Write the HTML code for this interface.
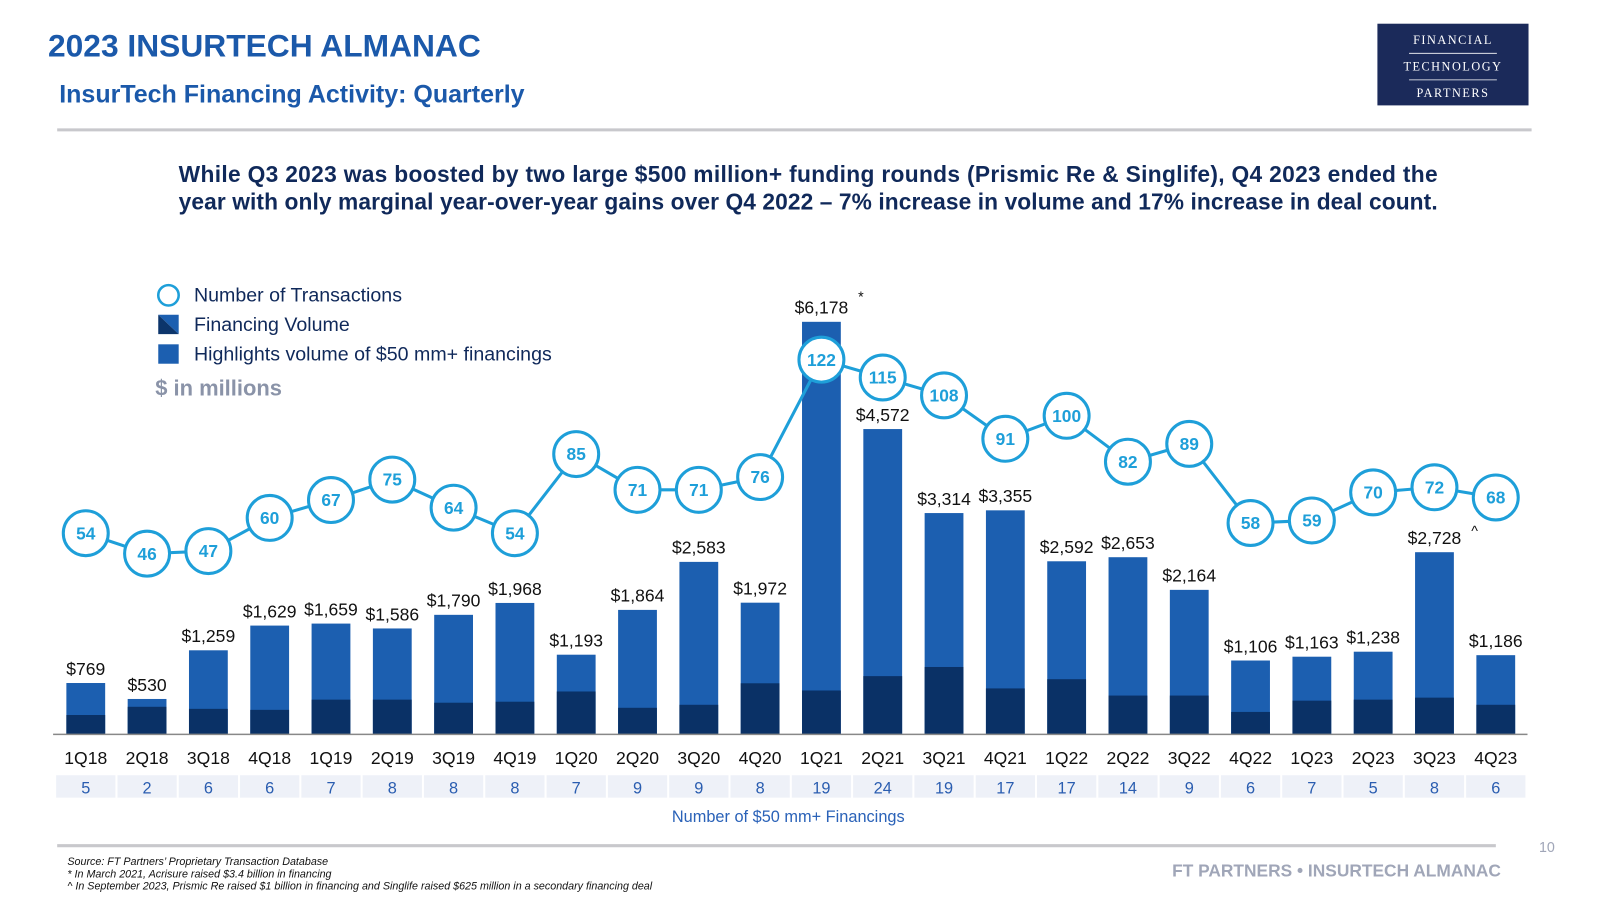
<!DOCTYPE html>
<html><head><meta charset="utf-8"><style>
html,body{margin:0;padding:0;background:#fff;}
svg{display:block;font-family:"Liberation Sans",sans-serif;}
</style></head><body>
<svg id="chart" width="1600" height="900" viewBox="0 0 1567 881">
<text x="47" y="55" font-size="31.1" font-weight="bold" fill="#1b59aa">2023 INSURTECH ALMANAC</text>
<text x="58" y="100" font-size="24.5" font-weight="bold" fill="#1b59aa">InsurTech Financing Activity: Quarterly</text>
<g>
<rect x="1349" y="23" width="148" height="80" fill="#1b2a5a"/>
<text x="1423" y="43" font-size="12" font-family="Liberation Serif,serif" fill="#fff" text-anchor="middle" letter-spacing="1.5">FINANCIAL</text>
<line x1="1380" y1="52" x2="1466" y2="52" stroke="#fff" stroke-width="0.8"/>
<text x="1423" y="69" font-size="12" font-family="Liberation Serif,serif" fill="#fff" text-anchor="middle" letter-spacing="1.5">TECHNOLOGY</text>
<line x1="1380" y1="78" x2="1466" y2="78" stroke="#fff" stroke-width="0.8"/>
<text x="1423" y="95" font-size="12" font-family="Liberation Serif,serif" fill="#fff" text-anchor="middle" letter-spacing="1.5">PARTNERS</text>
</g>
<line x1="56" y1="127" x2="1500" y2="127" stroke="#c8c8cc" stroke-width="3"/>
<text x="175" y="178" font-size="22.3" font-weight="bold" fill="#10295a" textLength="1233" lengthAdjust="spacing">While Q3 2023 was boosted by two large $500 million+ funding rounds (Prismic Re &amp; Singlife), Q4 2023 ended the</text>
<text x="175" y="205" font-size="22.3" font-weight="bold" fill="#10295a" textLength="1233" lengthAdjust="spacing">year with only marginal year-over-year gains over Q4 2022 – 7% increase in volume and 17% increase in deal count.</text>
<g>
<circle cx="165" cy="289" r="10" fill="#fff" stroke="#1e9fd9" stroke-width="2.5"/>
<text x="190" y="295" font-size="19.2" fill="#10295a">Number of Transactions</text>
<polygon points="155,308 175,308 175,327" fill="#1c5fb0"/><polygon points="155,308 155,327 175,327" fill="#0c356b"/>
<text x="190" y="324" font-size="19.2" fill="#10295a">Financing Volume</text>
<rect x="155" y="337" width="20" height="19" fill="#1c5fb0"/>
<text x="190" y="353" font-size="19.2" fill="#10295a">Highlights volume of $50 mm+ financings</text>
<text x="152" y="387" font-size="21.5" font-weight="bold" fill="#8a93a8">$ in millions</text>
</g>
<g id="bars"></g><g id="line"></g><g id="axis"></g>
<text x="772" y="805" font-size="16" fill="#2a62b8" text-anchor="middle">Number of $50 mm+ Financings</text>
<line x1="56" y1="828" x2="1465" y2="828" stroke="#c8c8cc" stroke-width="3"/>
<text x="1515" y="834" font-size="14" fill="#a0a6b8" text-anchor="middle">10</text>
<text x="66" y="847" font-size="10.5" font-style="italic" fill="#111">Source: FT Partners’ Proprietary Transaction Database</text>
<text x="66" y="859" font-size="10.5" font-style="italic" fill="#111">* In March 2021, Acrisure raised $3.4 billion in financing</text>
<text x="66" y="871" font-size="10.5" font-style="italic" fill="#111">^ In September 2023, Prismic Re raised $1 billion in financing and Singlife raised $625 million in a secondary financing deal</text>
<text x="1470" y="858" font-size="17" font-weight="bold" fill="#a0a6b8" text-anchor="end">FT PARTNERS • INSURTECH ALMANAC</text>
</svg>
<script>
const categories=["1Q18","2Q18","3Q18","4Q18","1Q19","2Q19","3Q19","4Q19","1Q20","2Q20","3Q20","4Q20","1Q21","2Q21","3Q21","4Q21","1Q22","2Q22","3Q22","4Q22","1Q23","2Q23","3Q23","4Q23"];
const volume=[769,530,1259,1629,1659,1586,1790,1968,1193,1864,2583,1972,6178,4572,3314,3355,2592,2653,2164,1106,1163,1238,2728,1186];
const darkVolume=[290,413,382,367,520,520,474,489,642,398,443,765,657,872,1009,688,826,581,581,336,505,520,550,443];
const transactions=[54,46,47,60,67,75,64,54,85,71,71,76,122,115,108,91,100,82,89,58,59,70,72,68];
const bigDeals=[5,2,6,6,7,8,8,8,7,9,9,8,19,24,19,17,17,14,9,6,7,5,8,6];
const volumeNotes=["","","","","","","","","","","","","*","","","","","","","","","","^",""];
const NS="http://www.w3.org/2000/svg";
const x0=84,step=60.04,base=719,k=0.0654,bw=38;
const xs=i=>x0+i*step, yv=v=>base-v*k, yt=v=>352+(122-v)*2.5;
function mk(tag,attrs,parent,txt){const e=document.createElementNS(NS,tag);for(const a in attrs)e.setAttribute(a,attrs[a]);if(txt!==undefined)e.textContent=txt;parent.appendChild(e);return e;}
const gb=document.getElementById('bars'),gl=document.getElementById('line'),ga=document.getElementById('axis');
categories.forEach((c,i)=>{
 const x=xs(i);
 const r=mk('rect',{x:x-bw/2,y:yv(volume[i]),width:bw,height:volume[i]*k,fill:'#1c5fb0'},gb);
 
 
 const d=mk('rect',{x:x-bw/2,y:yv(darkVolume[i]),width:bw,height:darkVolume[i]*k,fill:'#0a3166'},gb);
 
 
 const t=mk('text',{x:x,y:yv(volume[i])-8,'font-size':17.2,fill:'#111','text-anchor':'middle'},gb,'$'+volume[i].toLocaleString('en-US'));
 
 
 if(volumeNotes[i]){const n=mk('text',{x:x+36,y:yv(volume[i])-(volumeNotes[i]=='*'?20:16),'font-size':14,fill:'#111'},gb,volumeNotes[i]);
  
  }
 const ct=mk('text',{x:x,y:748,'font-size':17.2,fill:'#111','text-anchor':'middle'},ga,c);
 
 
 const cell=mk('rect',{x:x-step/2+1,y:759,width:step-2,height:22,fill:'#eef1f8'},ga);
 
 
 const bt=mk('text',{x:x,y:777,'font-size':16,fill:'#2a5db0','text-anchor':'middle'},ga,bigDeals[i]);
 
 
});
const ax=mk('line',{x1:52,y1:base,x2:1496,y2:base,stroke:'#888','stroke-width':1.5},ga);


const pl=mk('polyline',{points:transactions.map((v,i)=>xs(i)+','+yt(v)).join(' '),fill:'none',stroke:'#1e9fd9','stroke-width':3},gl);


transactions.forEach((v,i)=>{
 const c=mk('circle',{cx:xs(i),cy:yt(v),r:22,fill:'#fff',stroke:'#1e9fd9','stroke-width':3},gl);
 
 
 const t=mk('text',{x:xs(i),y:yt(v)+6,'font-size':17,'font-weight':'bold',fill:'#1e9fd9','text-anchor':'middle'},gl,v);
 
 
});
</script>
</body></html>
